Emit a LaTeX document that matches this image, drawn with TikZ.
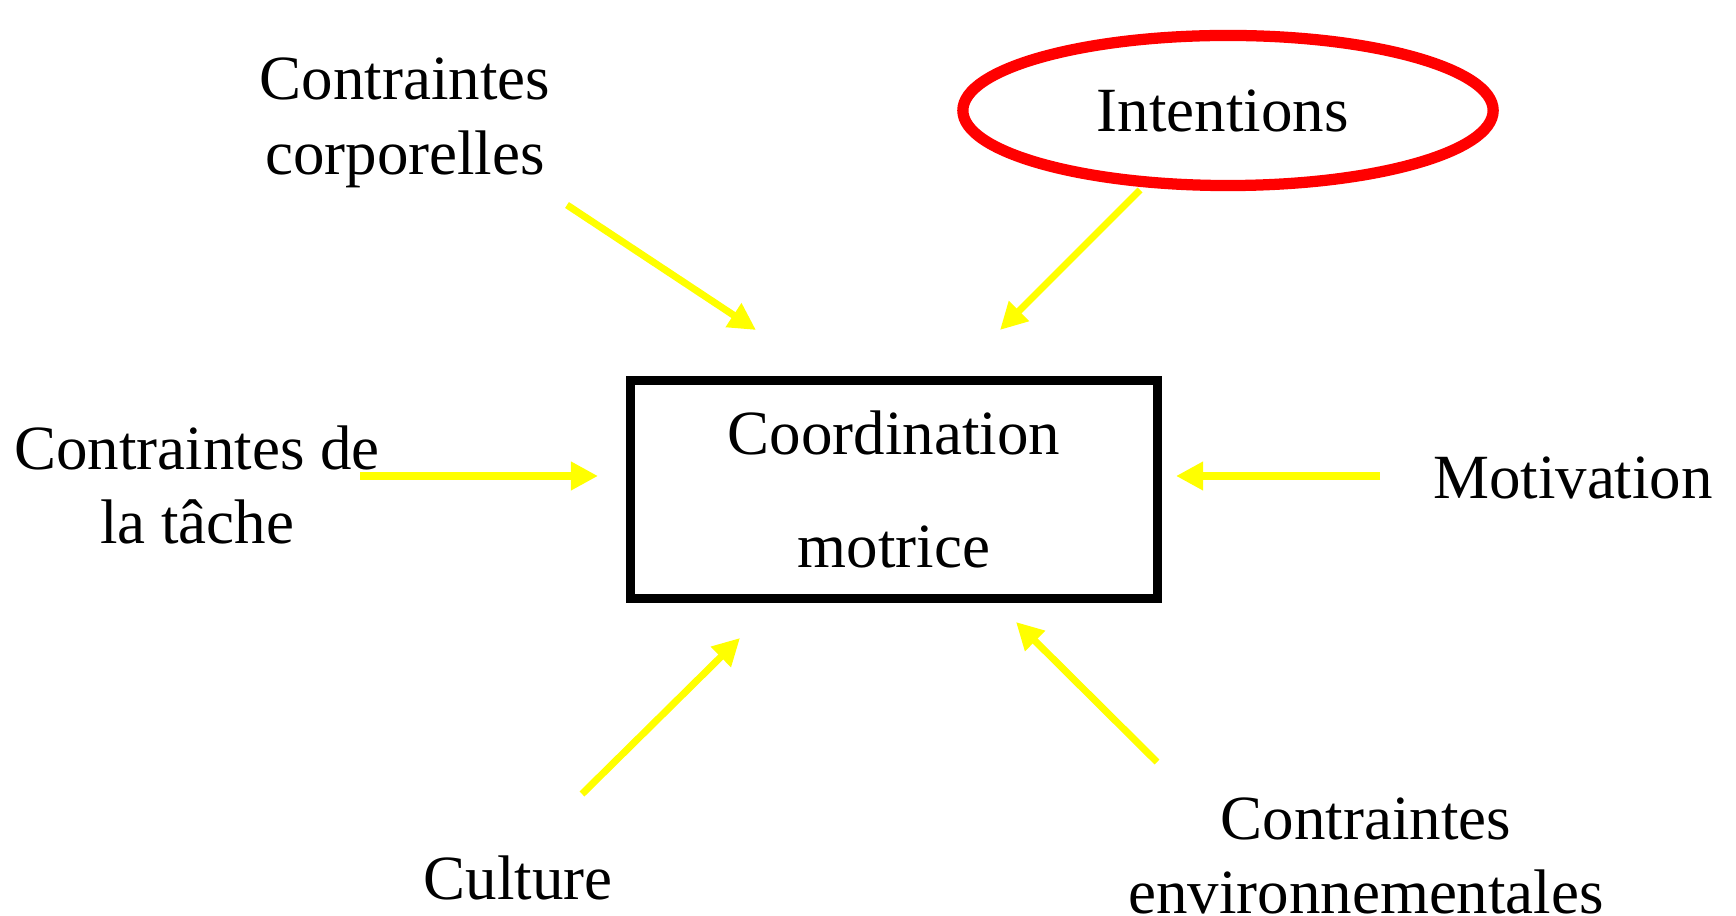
\documentclass[tikz,border=0pt]{standalone}
\usepackage{fontspec}
\setmainfont{Liberation Serif}
\usetikzlibrary{arrows.meta,shapes.geometric}
\definecolor{PushYellow}{RGB}{255,255,0}
\definecolor{GoalRed}{RGB}{255,0,0}

\tikzset{
	factor/.style={
		inner sep=0pt,
		align=center,
		font=\fontsize{17.9}{21.3}\selectfont
	},
	push/.style={
		-{Triangle[length=0.27cm,width=0.27cm]},
		PushYellow,
		line width=2pt
	}
}

\begin{document}
\begin{tikzpicture}[x=0.01cm,y=-0.01cm]
				
				\useasboundingbox (0,0) rectangle (1736,916);
				
				% central box
				\node[
				factor,
				draw=black,
				line width=2.4pt,
				minimum width=5.27cm,
				minimum height=2.18cm
				]
				(CM) at (894,489.5)
				{Coordination\\[10.8pt]motrice};
				
				% the six influences
				\node[
				draw=GoalRed,
				line width=3.2pt,
				ellipse,
				minimum width=5.3cm,
				minimum height=1.5cm,
				factor
				]
				(IN) at (1228,110.5)
				{Intentions\hspace{3pt}};
				
				\node[factor] (CC) at (405,123) {Contraintes\\corporelles};
				\node[factor] (CT) at (197,485) {Contraintes de\\la tâche};
				\node[factor] (MO) at (1573,478) {Motivation};
				\node[factor] (CU) at (518,878) {Culture};
				\node[factor] (CE) at (1366,856) {Contraintes\\environnementales};
				
				% arrow ends
				\coordinate (CC-a) at (567,205);
				\coordinate (CC-b) at (756,330);
				\coordinate (IN-a) at (1140,190);
				\coordinate (IN-b) at (1000,330);
				\coordinate (CT-a) at (360,476);
				\coordinate (CT-b) at (598,476);
				\coordinate (MO-a) at (1380,476);
				\coordinate (MO-b) at (1176,476);
				\coordinate (CU-a) at (582,794);
				\coordinate (CU-b) at (740,638);
				\coordinate (CE-a) at (1157,762);
				\coordinate (CE-b) at (1016,622);
				
				\draw[push] (CC-a) -- (CC-b);
				\draw[push] (IN-a) -- (IN-b);
				\draw[push] (CT-a) -- (CT-b);
				\draw[push] (MO-a) -- (MO-b);
				\draw[push] (CU-a) -- (CU-b);
				\draw[push] (CE-a) -- (CE-b);
				
			\end{tikzpicture}
\end{document}
